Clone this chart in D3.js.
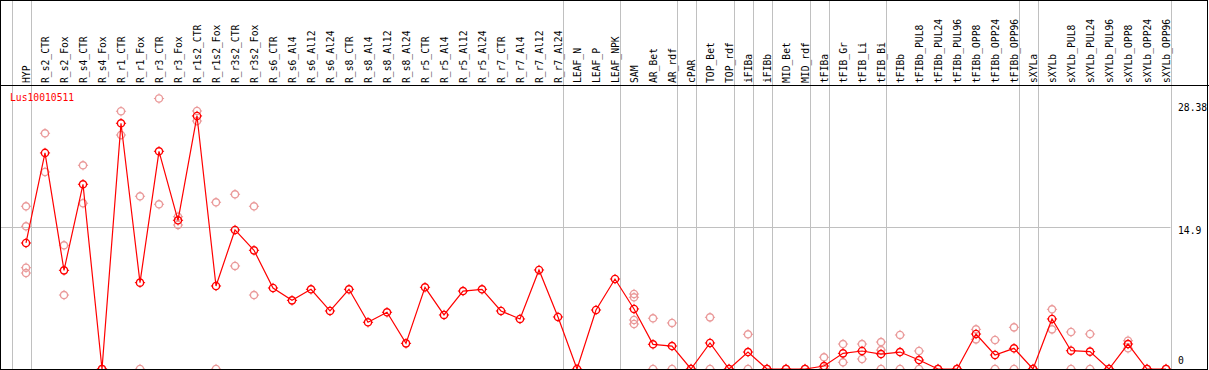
<!DOCTYPE html>
<html>
<head>
<meta charset="utf-8">
<script src="https://cdn.jsdelivr.net/npm/d3@7"></script>
<style>
  body { margin: 0; background: #fff; }
  svg { display: block; }
  text { font-family: "DejaVu Sans Mono", "Liberation Mono", monospace; font-size: 9.7px; }
</style>
</head>
<body>
<svg width="1209" height="370"></svg>
<script>
// название гена
const geneName = "Lus10010511";

// образцы (подписи по оси OX)
const categories = [
  "HYP", "R_s2_CTR", "R_s2_Fox", "R_s4_CTR", "R_s4_Fox", "R_r1_CTR", "R_r1_Fox",
  "R_r3_CTR", "R_r3_Fox", "R_r1s2_CTR", "R_r1s2_Fox", "R_r3s2_CTR", "R_r3s2_Fox",
  "R_s6_CTR", "R_s6_Al4", "R_s6_Al12", "R_s6_Al24", "R_s8_CTR", "R_s8_Al4", "R_s8_Al12",
  "R_s8_Al24", "R_r5_CTR", "R_r5_Al4", "R_r5_Al12", "R_r5_Al24", "R_r7_CTR", "R_r7_Al4",
  "R_r7_Al12", "R_r7_Al24", "LEAF_N", "LEAF_P", "LEAF_NPK", "SAM", "AR_Bet", "AR_rdf",
  "cPAR", "TOP_Bet", "TOP_rdf", "iFIBa", "iFIBb", "MID_Bet", "MID_rdf", "tFIBa",
  "tFIB_Gr", "tFIB_Li", "tFIB_Bi", "tFIBb", "tFIBb_PUL8", "tFIBb_PUL24", "tFIBb_PUL96",
  "tFIBb_OPP8", "tFIBb_OPP24", "tFIBb_OPP96", "sXYLa", "sXYLb", "sXYLb_PUL8",
  "sXYLb_PUL24", "sXYLb_PUL96", "sXYLb_OPP8", "sXYLb_OPP24", "sXYLb_OPP96"
];

// средние значения экспрессии
const means = [
  13.22, 22.67, 10.35, 19.38, 0, 25.78, 9.06, 22.84, 15.6, 26.55, 8.71, 14.59, 12.45,
  8.5, 7.2, 8.36, 6.09, 8.36, 4.9, 5.95, 2.69, 8.57, 5.67, 8.18, 8.36, 6.09, 5.25,
  10.39, 5.46, 0, 6.19, 9.44, 6.3, 2.59, 2.41, 0, 2.73, 0, 1.78, 0, 0, 0, 0.31,
  1.64, 1.89, 1.57, 1.78, 0.94, 0, 0, 3.67, 1.47, 2.17, 0, 5.25, 1.92, 1.82, 0,
  2.62, 0, 0
];

// отдельные повторности
const replicates = [
  [17.07, 14.97, 10.63, 10.07], [24.73, 20.67], [12.98, 7.76], [21.37, 17.39], [0, 0],
  [27.04, 24.55], [18.12, 0], [28.38, 17.28], [15.98, 15.11], [27.07, 26.02],
  [17.49, 0], [18.33, 10.81], [17.07, 7.76],
  [], [], [], [], [], [], [], [], [], [], [], [], [], [], [], [], [], [], [],
  [7.87, 7.52, 5.14, 4.72], [5.32, 0], [4.83, 0], [0, 0], [5.42, 0], [0, 0],
  [3.64, 0], [0, 0], [0, 0], [0, 0], [1.23, 0, 0, 0], [2.62, 0.7], [2.62, 1.05],
  [2.83, 1.99, 0], [3.57, 0], [1.89, 0], [0, 0], [0, 0], [4.16, 3.11], [3.04, 0],
  [4.37, 0], [0, 0], [6.26, 4.16], [3.88, 0], [3.67, 0], [0, 0], [2.97, 2.17],
  [0, 0], [0, 0]
];

// образцы, после которых проходит разделитель групп
const groupEnds = [
  "HYP", "R_r7_Al24", "LEAF_NPK", "AR_rdf", "cPAR", "TOP_rdf", "iFIBa", "iFIBb",
  "MID_rdf", "tFIBa", "tFIB_Bi", "tFIBb_OPP96", "sXYLa", "sXYLb_OPP96"
];

// подписи справа
const yTicks = [28.38, 14.9, 0];

function drawChart() {
  const svg = d3.select("svg");

  const attr_area = {
    width: 1209,
    height: 370,
    headerY: 85.5,
    bottom: 369
  };

  const scX = d3.scalePoint()
      .domain(categories)
      .range([26, 1166]);
  const step = scX.step();

  const scY = d3.scaleLinear()
      .domain([0, d3.max(yTicks)])
      .range([attr_area.bottom, 98.5]);

  const lastX = scX(categories[categories.length - 1]) + 4.5;

  // горизонтальная линия сетки
  svg.append("line")
      .attr("x1", 0).attr("x2", lastX)
      .attr("y1", Math.round(scY(yTicks[1])) + 0.5)
      .attr("y2", Math.round(scY(yTicks[1])) + 0.5)
      .style("stroke", "#c0c0c0");

  // вертикальные разделители групп
  const sepX = [scX(categories[0]) - step + 4.5].concat(groupEnds.map(c => scX(c) + 4.5));
  svg.selectAll(".sep")
      .data(sepX)
      .enter()
      .append("line")
      .attr("x1", d => Math.round(d) + 0.5)
      .attr("x2", d => Math.round(d) + 0.5)
      .attr("y1", 0)
      .attr("y2", attr_area.bottom)
      .style("stroke", "#c0c0c0");

  // подписи образцов - вертикальные
  svg.selectAll(".lbl")
      .data(categories)
      .enter()
      .append("text")
      .attr("transform", d => `translate(${scX(d) + 4}, 83) rotate(-90)`)
      .style("fill", "#000")
      .text(d => d);

  // область графика с обрезкой
  svg.append("clipPath")
      .attr("id", "plotClip")
      .append("rect")
      .attr("x", 0).attr("y", 86)
      .attr("width", attr_area.width).attr("height", attr_area.bottom - 86);

  const plot = svg.append("g").attr("clip-path", "url(#plotClip)");

  const repData = replicates.flatMap((arr, i) => arr.map(v => ({ c: categories[i], v: v })));
  drawMarkers(plot, repData, scX, scY, "#ea9a9a");

  const line = d3.line()
      .x((d, i) => scX(categories[i]))
      .y(d => scY(d));

  plot.append("path")
      .datum(means)
      .attr("d", line)
      .style("fill", "none")
      .style("stroke", "red")
      .style("stroke-width", 1.2);

  drawMarkers(plot, means.map((v, i) => ({ c: categories[i], v: v })), scX, scY, "red");

  // название гена
  svg.append("text")
      .attr("x", 10).attr("y", 101)
      .style("fill", "red")
      .text(geneName);

  // подписи значений справа
  svg.selectAll(".tick")
      .data(yTicks)
      .enter()
      .append("text")
      .attr("x", 1178)
      .attr("y", d => Math.min(Math.max(scY(d) + 7, 111), 364))
      .style("fill", "#000")
      .text(d => d);

  // рамка
  svg.append("rect")
      .attr("x", 0.5).attr("y", 0.5)
      .attr("width", 1207).attr("height", attr_area.bottom)
      .style("fill", "none")
      .style("stroke", "#000");

  svg.append("line")
      .attr("x1", 0).attr("x2", attr_area.width)
      .attr("y1", attr_area.headerY).attr("y2", attr_area.headerY)
      .style("stroke", "#000");
}

function drawMarkers(g, data, scX, scY, color) {
  const r = 3.6;
  const nub = `M0,${-r - 1.5}V${-r}M0,${r}V${r + 1.5}M${-r - 1.5},0H${-r}M${r},0H${r + 1.5}`;
  const m = g.selectAll(null)
      .data(data)
      .enter()
      .append("g")
      .attr("transform", d => `translate(${scX(d.c)}, ${scY(d.v)})`);
  m.append("circle")
      .attr("r", r)
      .style("fill", "none")
      .style("stroke", color)
      .style("stroke-width", 1.4);
  m.append("path")
      .attr("d", nub)
      .style("stroke", color)
      .style("stroke-width", 1);
}

drawChart();
</script>
</body>
</html>
